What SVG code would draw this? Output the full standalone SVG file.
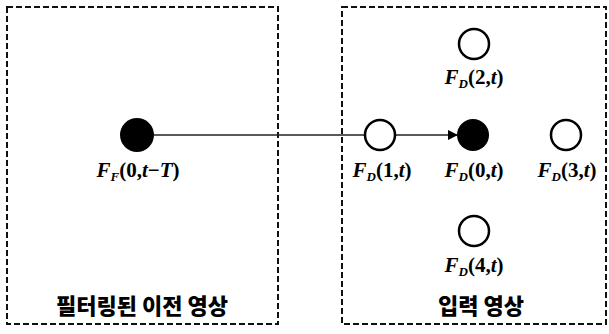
<svg xmlns="http://www.w3.org/2000/svg" width="609" height="334" viewBox="0 0 609 334">
<style>
.box{fill:none;stroke:#111;stroke-width:2;stroke-dasharray:6 3}
.open{fill:#fff;stroke:#000;stroke-width:2.5}
.full{fill:#000}
.lbl{font-family:"Liberation Serif",serif;font-weight:bold;font-style:italic;font-size:21px;fill:#000}
.up{font-style:normal}
.sub{font-size:13px}
.kor{font-family:"Noto Sans CJK KR",sans-serif;font-weight:900;font-size:22px;fill:#000}
.conn{stroke:#222;stroke-width:1.5;fill:none}
</style>
<defs>
<marker id="arr" markerWidth="10" markerHeight="10" refX="9" refY="5" orient="auto" markerUnits="userSpaceOnUse">
<path d="M0,0 L10,5 L0,10 Z" fill="#000"/>
</marker>
</defs>
<g id="prev-frame">
<rect class="box" x="7" y="7" width="271" height="317"/>
<text class="kor" x="142" y="314" text-anchor="middle">필터링된 이전 영상</text>
</g>
<g id="input-frame">
<rect class="box" x="342" y="7" width="264" height="317"/>
<text class="kor" x="481" y="314" text-anchor="middle">입력 영상</text>
</g>
<g id="connectors">
<line class="conn" x1="154" y1="135" x2="457" y2="135" marker-end="url(#arr)"/>
</g>
<g id="FF0">
<circle class="full" cx="137" cy="135" r="17"/>
<text class="lbl" x="138" y="177" text-anchor="middle">F<tspan class="sub" dy="4">F</tspan><tspan class="up" dy="-4">(0,</tspan>t<tspan class="up">−</tspan>T<tspan class="up">)</tspan></text>
</g>
<g id="FD1">
<circle class="open" cx="380" cy="135" r="15"/>
<text class="lbl" x="382" y="177" text-anchor="middle">F<tspan class="sub" dy="4">D</tspan><tspan class="up" dy="-4">(1,</tspan>t<tspan class="up">)</tspan></text>
</g>
<g id="FD0">
<circle class="full" cx="473" cy="135" r="16"/>
<text class="lbl" x="474" y="177" text-anchor="middle">F<tspan class="sub" dy="4">D</tspan><tspan class="up" dy="-4">(0,</tspan>t<tspan class="up">)</tspan></text>
</g>
<g id="FD3">
<circle class="open" cx="566" cy="135" r="15"/>
<text class="lbl" x="567" y="177" text-anchor="middle">F<tspan class="sub" dy="4">D</tspan><tspan class="up" dy="-4">(3,</tspan>t<tspan class="up">)</tspan></text>
</g>
<g id="FD2">
<circle class="open" cx="474" cy="44" r="15"/>
<text class="lbl" x="474" y="84" text-anchor="middle">F<tspan class="sub" dy="4">D</tspan><tspan class="up" dy="-4">(2,</tspan>t<tspan class="up">)</tspan></text>
</g>
<g id="FD4">
<circle class="open" cx="474" cy="231" r="15"/>
<text class="lbl" x="474" y="272" text-anchor="middle">F<tspan class="sub" dy="4">D</tspan><tspan class="up" dy="-4">(4,</tspan>t<tspan class="up">)</tspan></text>
</g>
</svg>
